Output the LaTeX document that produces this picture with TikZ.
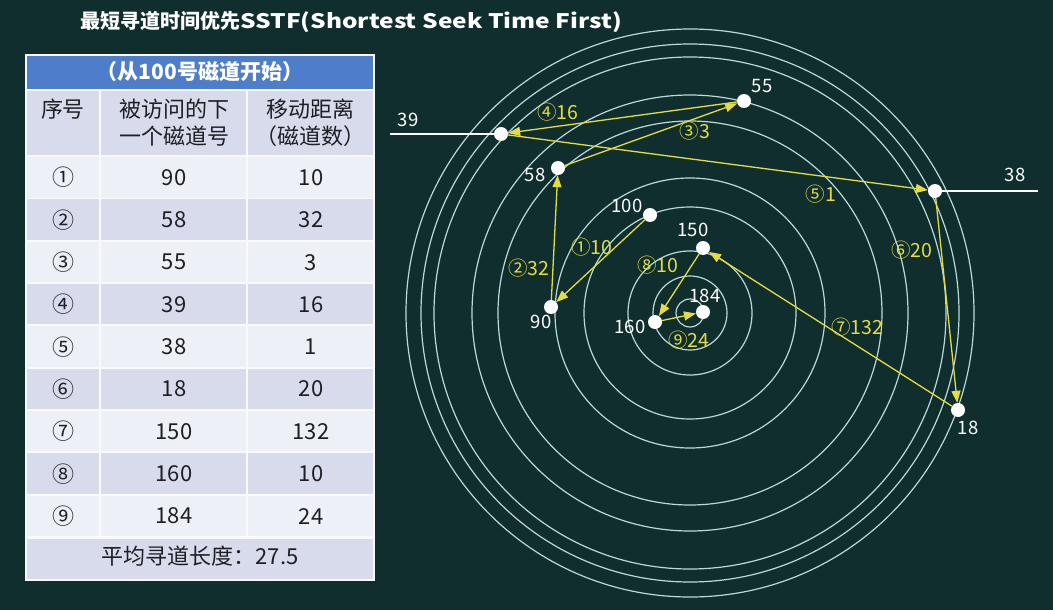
\documentclass[tikz,border=0pt]{standalone}
\usepackage{fontspec}
\usepackage{graphicx}
\setmainfont{Noto Sans CJK SC}
\usetikzlibrary{arrows.meta}
\definecolor{bg}{RGB}{16,46,46}
\definecolor{ringc}{RGB}{185,218,214}
\definecolor{yl}{RGB}{228,220,66}
\definecolor{hdrblue}{RGB}{78,126,202}
\definecolor{rowlight}{RGB}{238,240,247}
\definecolor{rowdark}{RGB}{215,219,236}
\definecolor{tabtext}{RGB}{30,30,36}
\definecolor{sepc}{RGB}{250,250,253}
\begin{document}
\begin{tikzpicture}[x=1pt,y=-1pt,
  dot/.style={circle, fill=white, inner sep=0pt, minimum size=14pt},
  ringline/.style={draw=ringc, line width=1.2pt},
  trackline/.style={draw=white, line width=1.6pt},
  arr/.style={draw=yl, line width=1.3pt, -{Triangle[length=12pt,width=9pt]}},
  ylab/.style={text=yl, font=\fontsize{19.5}{19.5}\selectfont, inner sep=0pt},
  wlab/.style={text=white, font=\fontsize{18.5}{18.5}\selectfont, inner sep=0pt},
  ttext/.style={text=tabtext, font=\fontsize{22}{27}\selectfont, inner sep=0pt, align=center}]
\useasboundingbox (0,0) rectangle (1053,610);
\fill[bg] (0,0) rectangle (1053,610);

% title
\node[text=white, anchor=west, inner sep=0pt, font=\bfseries\fontsize{20}{20}\selectfont] (title) at (80,22) {最短寻道时间优先\resizebox{382pt}{\height}{SSTF(Shortest Seek Time First)}};

% table
\fill[sepc] (25,54) rectangle (375,581);
\fill[hdrblue] (27,56) rectangle (373,89);
\node[text=white, inner sep=0pt, font=\bfseries\fontsize{21}{21}\selectfont] (hdr) at (200,72) {（从100号磁道开始）};
\fill[rowdark] (27,91) rectangle (99,155);
\fill[rowdark] (101,91) rectangle (246,155);
\fill[rowdark] (248,91) rectangle (373,155);
\node[ttext, anchor=north] (h1) at (63,99) {序号};
\node[ttext, anchor=north] (h2) at (174,99) {被访问的下\\一个磁道号};
\node[ttext, anchor=north] (h3) at (310,99) {移动距离\\（磁道数）};
\foreach \i/\a/\b/\c in {1/①/90/10, 2/②/58/32, 3/③/55/3, 4/④/39/16, 5/⑤/38/1, 6/⑥/18/20, 7/⑦/150/132, 8/⑧/160/10, 9/⑨/184/24}{
  \pgfmathsetmacro{\top}{157+(\i-1)*42.33}
  \pgfmathsetmacro{\bot}{\top+40.5}
  \pgfmathsetmacro{\mid}{\top+20.5}
  \pgfmathtruncatemacro{\odd}{mod(\i,2)}
  \ifnum\odd=1 \def\rc{rowlight}\else\def\rc{rowdark}\fi
  \fill[\rc] (27,\top) rectangle (99,\bot);
  \fill[\rc] (101,\top) rectangle (246,\bot);
  \fill[\rc] (248,\top) rectangle (373,\bot);
  \node[ttext] (ra\i) at (63,\mid) {\a};
  \node[ttext] (rb\i) at (174,\mid) {\b};
  \node[ttext] (rc\i) at (311,\mid) {\c};
}
\fill[rowdark] (27,538.5) rectangle (373,579);
\node[ttext] (avg) at (200,556) {平均寻道长度：27.5};

% rings
\foreach \r in {14,37,62,106,135,192,218,256,269,284}{
  \draw[ringline] (690,313) circle[radius=\r];
}

% dots
\node[dot] (n100) at (650,215) {};
\node[dot] (n90) at (551,307) {};
\node[dot] (n58) at (558,168) {};
\node[dot] (n55) at (744,101) {};
\node[dot] (n39) at (501,134) {};
\node[dot] (n38) at (935,191) {};
\node[dot] (n18) at (958,410) {};
\node[dot] (n150) at (703,248) {};
\node[dot] (n160) at (655,322) {};
\node[dot] (n184) at (703,312) {};

% track lines
\coordinate (e39) at (390,134);
\coordinate (e38) at (1038,191);
\draw[trackline] (e39) -- (n39);
\draw[trackline] (n38) -- (e38);

% dot labels
\node[wlab] (l55) at (762,86) {55};
\node[wlab] (l39) at (408,120) {39};
\node[wlab] (l58) at (535,175) {58};
\node[wlab] (l100) at (627,206) {100};
\node[wlab] (l90) at (541,322) {90};
\node[wlab] (l150) at (693,230) {150};
\node[wlab] (l184) at (705,296) {184};
\node[wlab] (l160) at (630,327) {160};
\node[wlab] (l38) at (1015,175) {38};
\node[wlab] (l18) at (968,428) {18};

% path arrows
\draw[arr] (n100) -- (n90);
\draw[arr] (n90) -- (n58);
\draw[arr] (n58) -- (n55);
\draw[arr] (n55) -- (n39);
\draw[arr] (n39) -- (n38);
\draw[arr] (n38) -- (n18);
\draw[arr] (n18) -- (n150);
\draw[arr] (n150) -- (n160);
\draw[arr] (n160) -- (n184);

% step labels
\node[ylab] (s1) at (592,247) {①10};
\node[ylab] (s2) at (529,268) {②32};
\node[ylab] (s3) at (695,131) {③3};
\node[ylab] (s4) at (558,112) {④16};
\node[ylab] (s5) at (821,194) {⑤1};
\node[ylab] (s6) at (912,250) {⑥20};
\node[ylab] (s7) at (857,327) {⑦132};
\node[ylab] (s8) at (658,265) {⑧10};
\node[ylab] (s9) at (689,340) {⑨24};
\end{tikzpicture}
\end{document}
